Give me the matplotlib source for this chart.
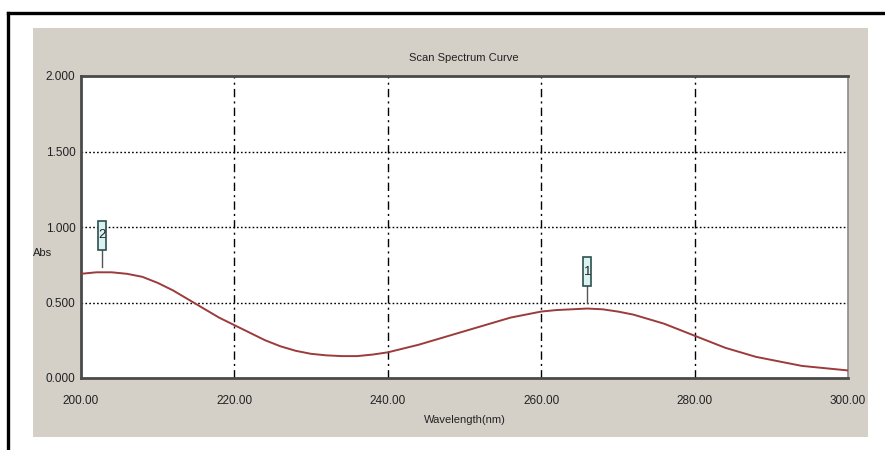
import numpy as np
import matplotlib
matplotlib.use("Agg")
import matplotlib.pyplot as plt
from matplotlib.patches import Rectangle
from matplotlib.lines import Line2D

plt.rcParams["font.family"] = ["Liberation Sans", "DejaVu Sans"]

# scan data (nm, Abs)
wavelength = [200, 202, 204, 206, 208, 210, 212, 214, 216, 218, 220,
              222, 224, 226, 228, 230, 232, 234, 236, 238, 240,
              242, 244, 246, 248, 250, 252, 254, 256, 258, 260,
              262, 264, 266, 268, 270, 272, 274, 276, 278, 280,
              282, 284, 286, 288, 290, 292, 294, 296, 298, 300]
absorbance = [0.69, 0.70, 0.70, 0.69, 0.67, 0.63, 0.58, 0.52, 0.46, 0.40, 0.35,
              0.30, 0.25, 0.21, 0.18, 0.16, 0.15, 0.145, 0.145, 0.155, 0.17,
              0.195, 0.22, 0.25, 0.28, 0.31, 0.34, 0.37, 0.40, 0.42, 0.44,
              0.45, 0.455, 0.46, 0.455, 0.44, 0.42, 0.39, 0.36, 0.32, 0.28,
              0.24, 0.20, 0.17, 0.14, 0.12, 0.10, 0.08, 0.07, 0.06, 0.05]

# peak markers
peak_labels = ["1", "2"]
peak_wl = [266.0, 202.7]
peak_abs = [0.46, 0.70]

x_ticks = [200, 220, 240, 260, 280, 300]
y_ticks = [0.0, 0.5, 1.0, 1.5, 2.0]

PANEL = "#d4d0c8"
CURVE = "#9b3b3b"

fig = plt.figure(figsize=(8.85, 4.5), dpi=100)
W, H = 885, 450

def fx(px):
    return px / W

def fy(py):
    return 1 - py / H

# outer frame (top + left only)
fig.add_artist(Line2D([fx(8), 1], [fy(13), fy(13)], color="black", lw=2.4,
                      transform=fig.transFigure))
fig.add_artist(Line2D([fx(8), fx(8)], [fy(13), 0], color="black", lw=2.4,
                      transform=fig.transFigure))

# gray window panel
fig.add_artist(Rectangle((fx(33), fy(437)), fx(868 - 33), (437 - 28) / H,
                         facecolor=PANEL, edgecolor="none",
                         transform=fig.transFigure, zorder=0))

ax = fig.add_axes([fx(81), fy(378), fx(848 - 81), (378 - 76) / H])
ax.set_facecolor("white")
ax.plot(wavelength, absorbance, color=CURVE, lw=1.4, zorder=3)

ax.set_xlim(200, 300)
ax.set_ylim(0, 2.0)
ax.set_xticks(x_ticks)
ax.set_xticklabels([f"{v:.2f}" for v in x_ticks], fontsize=8.5)
ax.set_yticks(y_ticks)
ax.set_yticklabels([f"{v:.3f}" for v in y_ticks], fontsize=8.5)
ax.tick_params(axis="x", length=0, pad=12, colors="#222222")
ax.tick_params(axis="y", length=0, pad=4, colors="#222222")

# grid: dotted horizontals, dash-dot verticals
for yv in y_ticks[1:-1]:
    ax.axhline(yv, color="black", lw=1.0, ls=(0, (1.2, 1.6)), zorder=1)
for xv in x_ticks[1:-1]:
    ax.axvline(xv, color="black", lw=1.0, ls=(0, (6, 3, 1.5, 3)), zorder=1)

for side in ("top", "left", "bottom"):
    ax.spines[side].set_color("#4a4a4a")
    ax.spines[side].set_linewidth(2.0)
ax.spines["right"].set_color("#8a8a8a")
ax.spines["right"].set_linewidth(1.2)

# peak markers: stem + boxed number
box_w = 1.05
for lab, wl, ab in zip(peak_labels, peak_wl, peak_abs):
    stem_lo = ab + 0.035
    stem_hi = ab + 0.15
    ax.plot([wl, wl], [stem_lo, stem_hi], color="#555555", lw=1.0, zorder=4)
    ax.add_patch(Rectangle((wl - box_w / 2, stem_hi), box_w, 0.19,
                           facecolor="#d9f2f2", edgecolor="#2f4f4f", lw=1.2,
                           zorder=5))
    ax.text(wl, stem_hi + 0.095, lab, ha="center", va="center",
            fontsize=9.5, color="#222222", zorder=6)

fig.text(fx(464), fy(58), "Scan Spectrum Curve", ha="center", va="center",
         fontsize=8, color="#222222")
fig.text(fx(43), fy(253), "Abs", ha="center", va="center",
         fontsize=8, color="#222222")
fig.text(fx(465), fy(420), "Wavelength(nm)", ha="center", va="center",
         fontsize=8, color="#222222")

fig.savefig("out.png", dpi=100)
